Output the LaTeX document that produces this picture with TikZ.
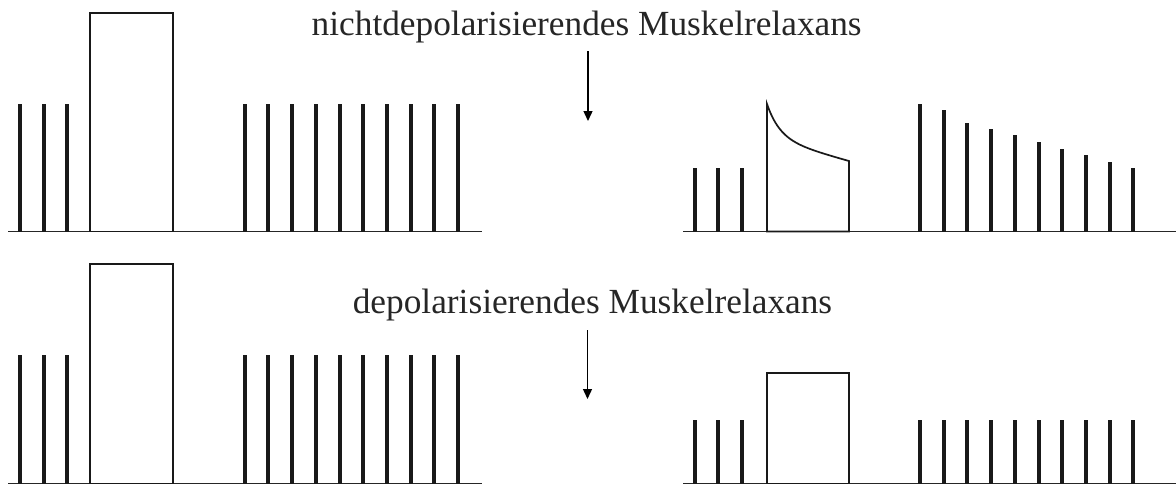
\documentclass[tikz,border=0pt]{standalone}
\usepackage{fontspec}
\setmainfont{Liberation Serif}
\usetikzlibrary{arrows.meta}
\begin{document}
\begin{tikzpicture}[x=1pt,y=-1pt,
  axis/.style={line width=1.8pt,draw=black!85},
  twitch/.style={line width=4pt,draw=black!90},
  tetanus/.style={line width=1.7pt,draw=black!90,line join=miter},
  drug/.style={font=\fontsize{35.3}{40}\selectfont,inner sep=0pt,anchor=base,text=black!85},
  effect/.style={line width=1.4pt,-{Triangle[length=10pt,width=9pt]}}]
\useasboundingbox (0,0) rectangle (1176,485);

% ---------- non-depolarising block ----------
\node[drug] (nd) at (586.7,35) {nichtdepolarisierendes Muskelrelaxans};
\coordinate (ndA) at (588,51);
\coordinate (ndB) at (588,121);
\draw[effect] (ndA) -- (ndB);

% control response
\draw[axis] (8,231.5) -- (482,231.5);
\foreach \x in {20,43.5,67} \draw[twitch] (\x,231.5) -- (\x,104);
\draw[tetanus] (90,231.5) rectangle (173,13);
\foreach \i in {0,...,9} \draw[twitch] ({244.7+23.7*\i},231.5) -- ({244.7+23.7*\i},104);

% response after block: fade
\draw[axis] (683,231.5) -- (1176,231.5);
\foreach \x in {694.7,718,742} \draw[twitch] (\x,231.5) -- (\x,168);
\draw[tetanus] (767,231.5) -- (767,104)
  -- plot[domain=0:82,samples=50] ({767+\x},{104+34.2*(1-exp(-\x/13))+0.279*\x})
  -- (849,231.5) -- cycle;
\foreach \y [count=\i from 0] in {104,110,122.7,129.3,135,142,148.7,155,161.7,167.7}
  \draw[twitch] ({920+23.7*\i},231.5) -- ({920+23.7*\i},\y);

% ---------- depolarising block ----------
\node[drug] (dp) at (592.5,313.3) {depolarisierendes Muskelrelaxans};
\coordinate (dpA) at (587.5,330);
\coordinate (dpB) at (587.5,399);
\draw[effect] (dpA) -- (dpB);

% control response
\draw[axis] (8,483.5) -- (482,483.5);
\foreach \x in {20,43.5,67} \draw[twitch] (\x,483.5) -- (\x,355);
\draw[tetanus] (90,483.5) rectangle (173,264.3);
\foreach \i in {0,...,9} \draw[twitch] ({244.7+23.7*\i},483.5) -- ({244.7+23.7*\i},355);

% response after block: uniform reduction, no fade
\draw[axis] (683,483.5) -- (1176,483.5);
\foreach \x in {694.7,718,742} \draw[twitch] (\x,483.5) -- (\x,420);
\draw[tetanus] (767,483.5) rectangle (849,373.3);
\foreach \i in {0,...,9} \draw[twitch] ({920+23.7*\i},483.5) -- ({920+23.7*\i},419.5);
\end{tikzpicture}
\end{document}
